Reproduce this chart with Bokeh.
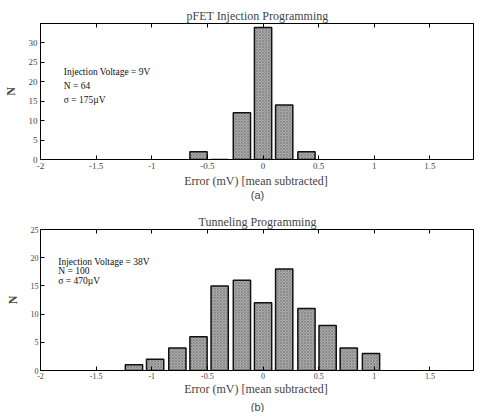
from bokeh.plotting import figure
from bokeh.models import LinearAxis, Label, Title, FixedTicker, Range1d, ColumnDataSource
from bokeh.layouts import column
from bokeh.embed import file_html
from bokeh.resources import INLINE

# ---- data ----
top_centers = [-0.58, -0.39, -0.19, 0.0, 0.19, 0.39]
top_counts = [2, 0, 12, 34, 14, 2]
bot_centers = [-1.16, -0.97, -0.77, -0.58, -0.39, -0.19, 0.0, 0.19, 0.39, 0.58, 0.77, 0.97]
bot_counts = [1, 2, 4, 6, 15, 16, 12, 18, 11, 8, 4, 3]
bar_width = 0.155
x_ticks = [-2, -1.5, -1, -0.5, 0, 0.5, 1, 1.5, 2]
x_tick_labels = {-2: "-2", -1.5: "-1.5", -1: "-1", -0.5: "-0.5", 0: "0", 0.5: "0.5", 1: "1", 1.5: "1.5", 2: "2"}
top_yticks = [0, 5, 10, 15, 20, 25, 30]
bot_yticks = [0, 5, 10, 15, 20, 25]
top_notes = ["Injection Voltage = 9V", "N = 64", "\u03c3 = 175\u00b5V"]
bot_notes = ["Injection Voltage = 38V", "N = 100", "\u03c3 = 470\u00b5V"]

SERIF = "Liberation Serif"
SANS = "Liberation Sans"


def panel(title, centers, counts, ymax, yticks, notes, note_x, note_ys, tag, height,
          top_border, bottom_border, tick_font, tick_standoff, label_standoff, tag_standoff):
    p = figure(width=474, height=height, x_range=Range1d(-2, 1.9), y_range=Range1d(0, ymax),
               output_backend="svg", toolbar_location=None,
               min_border_left=40, min_border_right=0, min_border_top=top_border,
               min_border_bottom=bottom_border)
    p.title.text = title
    p.title.align = "center"
    p.title.text_font = SERIF
    p.title.text_font_size = "12px"
    p.title.text_font_style = "normal"
    p.title.standoff = 1
    p.title.offset = 0
    src = ColumnDataSource(dict(x=centers, top=counts))
    p.vbar(x="x", top="top", width=bar_width, source=src,
           fill_color="#aaaaaa", line_color="#111111", line_width=1.5,
           hatch_pattern="x", hatch_scale=3, hatch_color="#555555", hatch_weight=0.6, hatch_alpha=0.6)
    p.grid.visible = False
    p.outline_line_color = "black"
    p.outline_line_width = 1
    for ax in (p.xaxis[0], p.yaxis[0]):
        ax.major_tick_in = 4
        ax.major_tick_out = 0
        ax.minor_tick_line_color = None
        ax.major_label_text_font = SERIF
        ax.major_label_text_font_size = tick_font
        ax.axis_line_color = "black"
        ax.major_label_standoff = tick_standoff
    p.xaxis[0].ticker = FixedTicker(ticks=x_ticks)
    p.xaxis[0].major_label_overrides = x_tick_labels
    p.xaxis[0].axis_label = "Error (mV)  [mean subtracted]"
    p.xaxis[0].axis_label_text_font = SERIF
    p.xaxis[0].axis_label_text_font_size = "12px"
    p.xaxis[0].axis_label_text_font_style = "normal"
    p.xaxis[0].axis_label_standoff = label_standoff
    p.yaxis[0].ticker = FixedTicker(ticks=yticks)
    p.yaxis[0].axis_label = "N"
    p.yaxis[0].axis_label_text_font = SERIF
    p.yaxis[0].axis_label_text_font_size = "12px"
    p.yaxis[0].axis_label_text_font_style = "bold"
    p.yaxis[0].axis_label_standoff = 8
    # mirrored tick marks on the top edge
    ax = LinearAxis(ticker=FixedTicker(ticks=x_ticks), major_tick_in=4, major_tick_out=0,
                    minor_tick_line_color=None, major_label_text_font_size="1px",
                    major_label_text_color=None,
                    major_label_standoff=0, axis_line_color="black")
    p.add_layout(ax, "above")
    p.add_layout(Title(text=tag, align="center", text_font=SANS, text_font_size="11px",
                       text_font_style="normal", standoff=tag_standoff, offset=0), "below")
    for txt, yv in zip(notes, note_ys):
        p.add_layout(Label(x=note_x, y=yv, text=txt, text_font=SERIF, text_font_size="9.5px",
                           text_baseline="middle", text_color="#111111"))
    return p


p1 = panel("pFET Injection Programming", top_centers, top_counts, 35, top_yticks,
           top_notes, -1.79, [22.4, 19.0, 15.4], "(a)", 212, 23, 53, "9px", 3, 2, -7)
p2 = panel("Tunneling Programming", bot_centers, bot_counts, 25, bot_yticks,
           bot_notes, -1.84, [19.3, 17.6, 15.8], "(b)", 200, 17, 37, "8px", 2, 0, 0)

layout = column(p1, p2, spacing=0)
open("out.html", "w").write(file_html(layout, INLINE))
